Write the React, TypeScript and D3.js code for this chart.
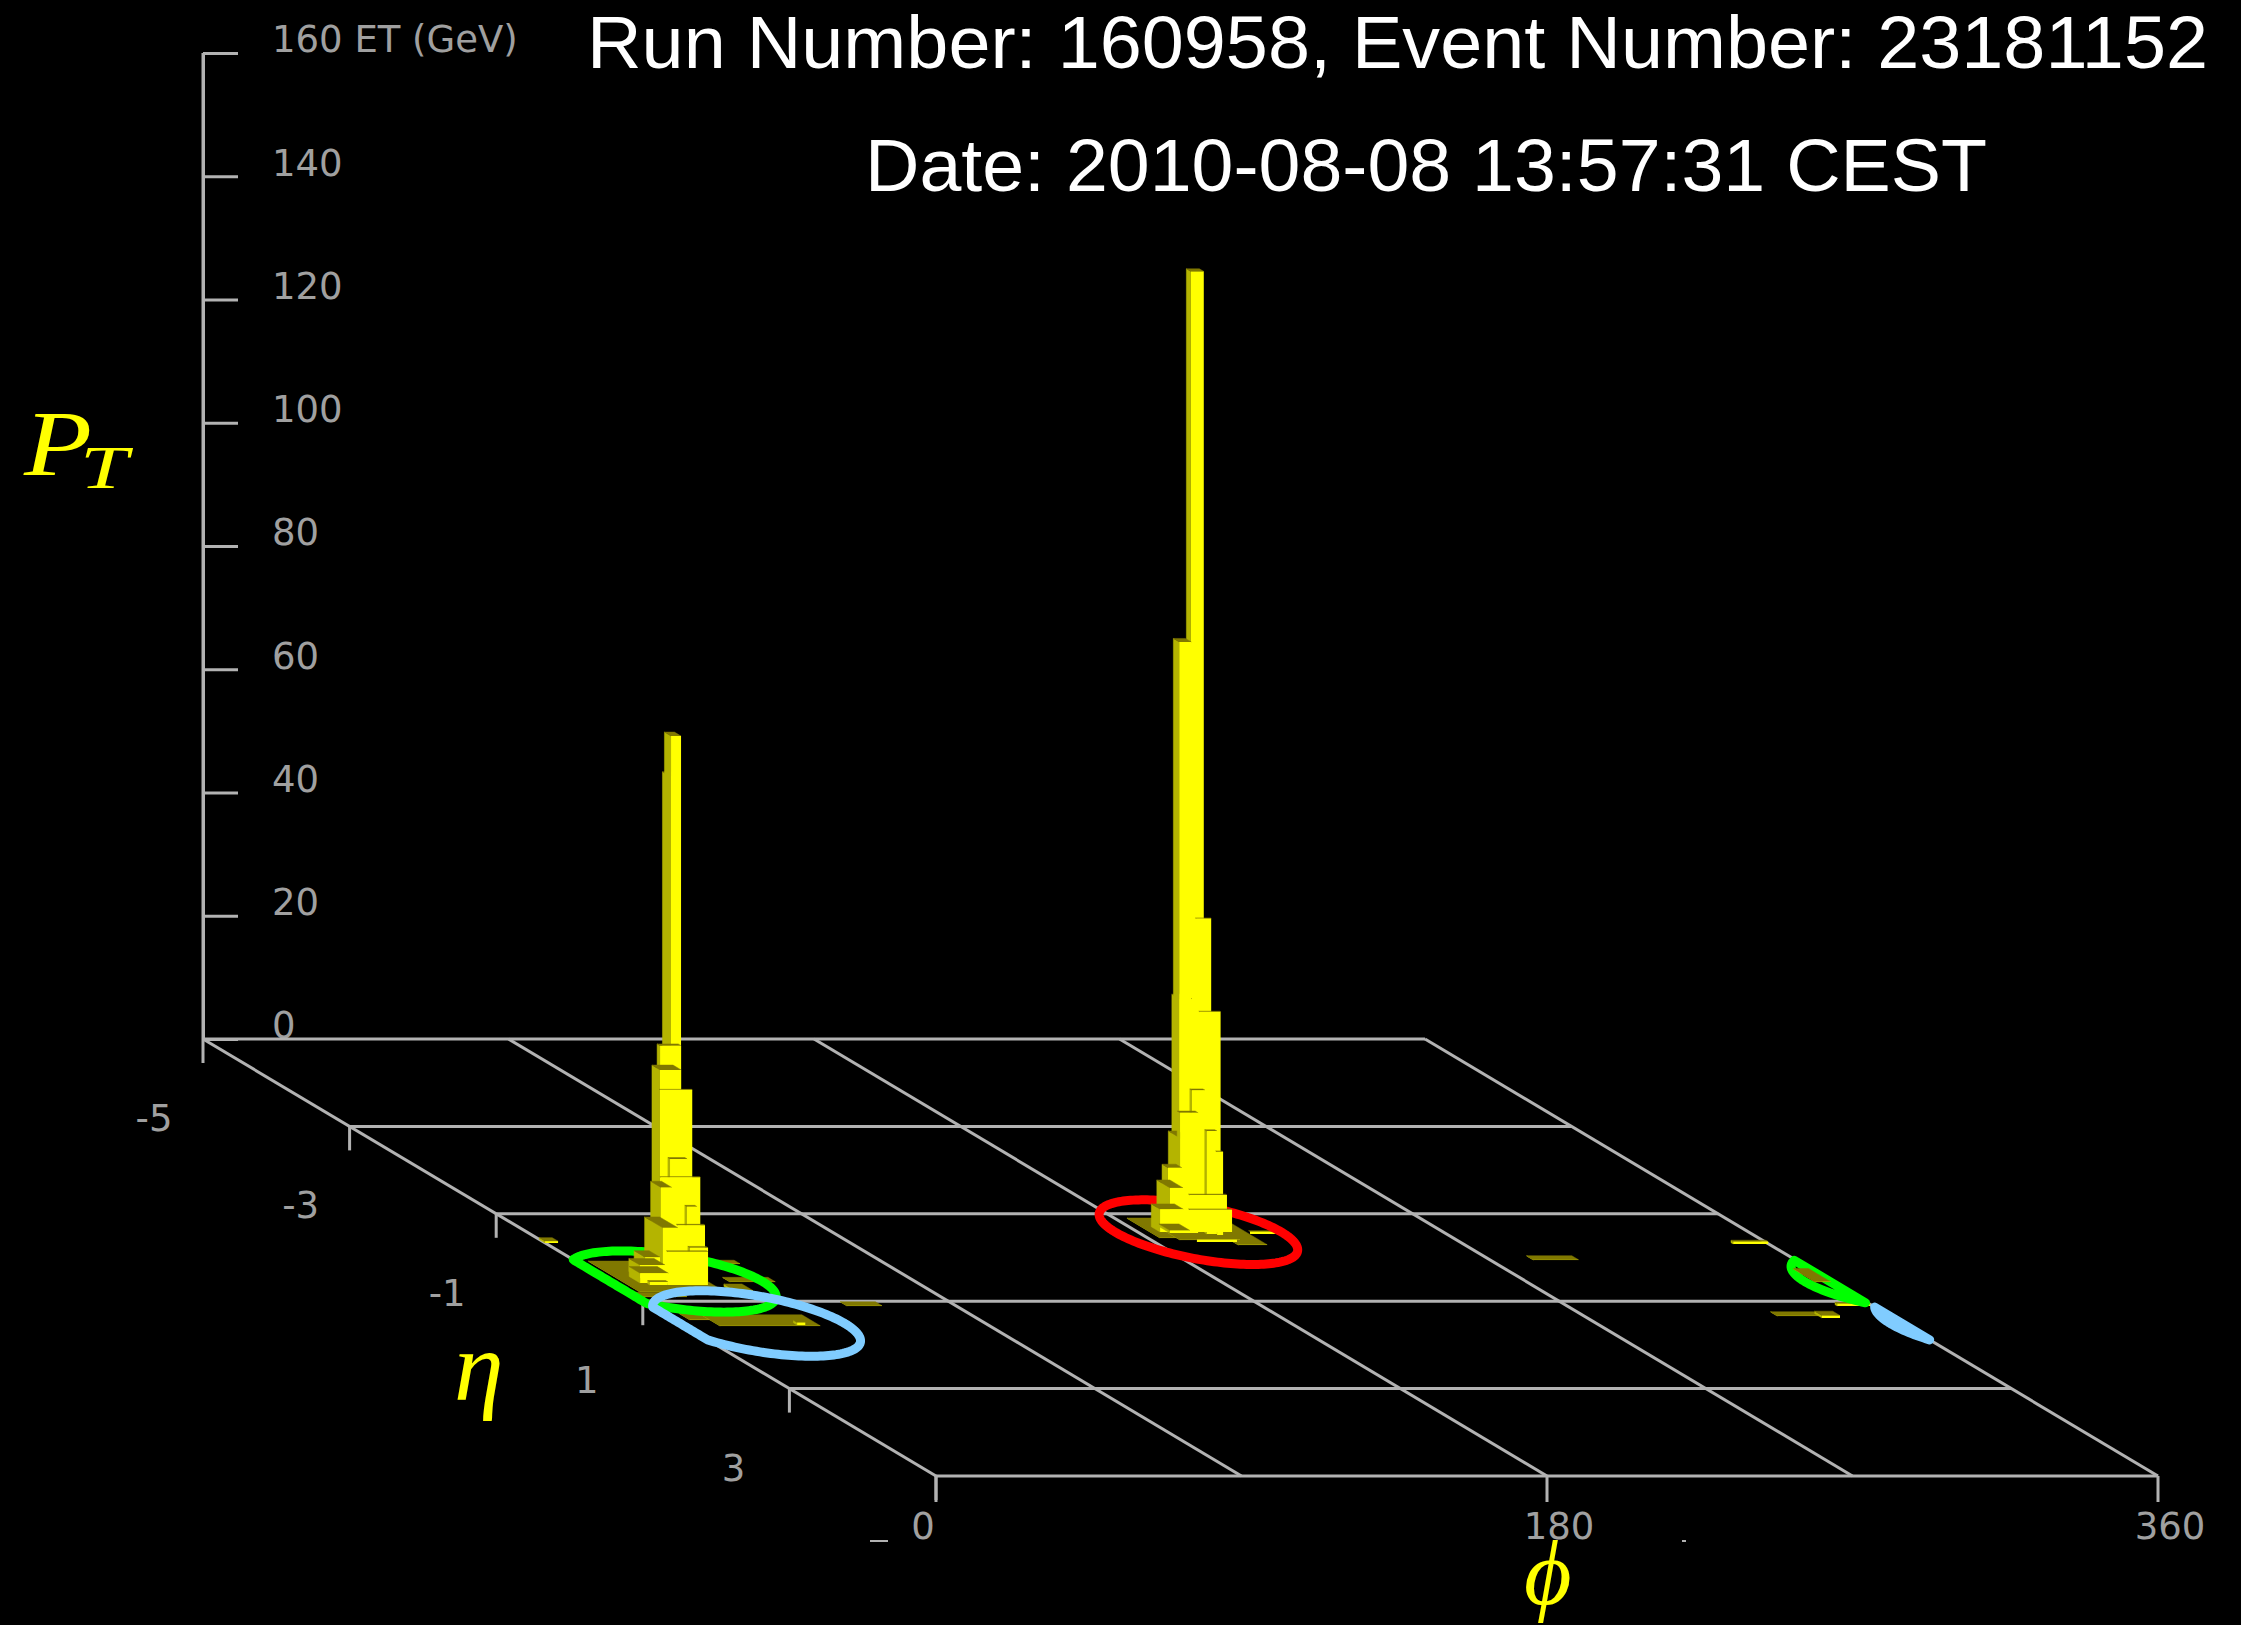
import * as d3 from "d3";
import { useEffect, useRef } from "react";

const ptTicks = [0, 20, 40, 60, 80, 100, 120, 140, 160];
const etaRows = [-5, -3, -1, 1, 3, 5];
const etaLabels = ["-5", "-3", "-1", "1", "3"];
const phiLines = [0, 90, 180, 270, 360];
const phiLabels = [0, 180, 360];
const titleLines = [
  "Run Number: 160958, Event Number: 23181152",
  "Date: 2010-08-08 13:57:31 CEST",
];

// every tower row: phi, eta (front edge), dPhi, dEta, pT
const flatDeposits = [
  [3.7, 0.789, 25, 0.7, 0.05],
  [40.2, 0.149, 6.8, 0.08, 0.05],
  [35.2, 0.561, 13.3, 0.1, 0.05],
  [31.2, 0.812, 5.3, 0.15, 0.4],
  [2.1, 0.904, 13, 0.1, 0.05],
  [4.6, 1.43, 8.8, 0.15, 0.05],
  [10.5, 1.568, 29.5, 0.25, 0.05],
  [33.7, 1.545, 2.4, 0.05, 0.4],
  [57.8, 1.11, 10.3, 0.09, 0.05],
  [0, -0.332, 3.8, 0.08, 0.3],
  [183.6, -0.446, 10.3, 0.45, 0.05],
  [203.2, -0.286, 8.5, 0.55, 0.05],
  [188.5, -0.4, 17.7, 0.2, 0.05],
  [192.5, -0.355, 11.8, 0.02, 0.4],
  [212.1, -0.538, 9.4, 0.02, 0.4],
  [349.5, -0.309, 10.3, 0.03, 0.4],
  [282.7, 0.057, 13.3, 0.09, 0.05],
  [349.5, 1.11, 9.7, 0.03, 0.4],
  [326.9, 1.339, 12.7, 0.09, 0.05],
  [339.1, 1.384, 5.3, 0.1, 0.4],
];

const overRingDeposits = [[354.9, 0.561, 4.5, 0.3, 0.05]];

const leftJetTowers = [
  [27.1, 0.103, 3.5, 0.09, 78.9],
  [25.7, 0.195, 2.95, 0.09, 86],
  [20.5, 0.286, 6.2, 0.04, 36.4],
  [19.5, 0.332, 6.2, 0.11, 32.8],
  [18.5, 0.378, 9.5, 0.01, 29.9],
  [20.5, 0.423, 5, 0.03, 19],
  [17.2, 0.446, 11.7, 0.01, 16.2],
  [16.8, 0.469, 3.2, 0.14, 14.7],
  [23.5, 0.515, 2.95, 0.03, 11.9],
  [16.9, 0.492, 4.4, 0.25, 8.3],
  [20.8, 0.515, 8, 0.02, 8.9],
  [23.9, 0.538, 5.3, 0.03, 5.4],
  [15.4, 0.629, 11.8, 0.02, 5.4],
  [15.1, 0.332, 4.4, 0.15, 2.4],
  [10.6, 0.469, 7.4, 0.15, 2.1],
  [8.2, 0.584, 8.3, 0.15, 1.6],
  [10.1, 0.629, 5.3, 0.03, 0.5],
];

const rightJetTowers = [
  [198.6, -0.721, 3.83, 0.06, 154.9],
  [194.9, -0.698, 3.54, 0.11, 37],
  [194.2, -0.675, 3.54, 0.08, 95.1],
  [198.7, -0.652, 4.42, 0.01, 50.4],
  [198.7, -0.606, 6.2, 0.01, 35.6],
  [196, -0.584, 3.83, 0.03, 23],
  [196.3, -0.721, 2.95, 0.2, 14],
  [192, -0.561, 5.3, 0.04, 19.5],
  [199.4, -0.538, 2.95, 0.03, 16.7],
  [201.9, -0.515, 1.77, 0.02, 13.5],
  [189.9, -0.63, 4.1, 0.08, 10.1],
  [190, -0.606, 3.83, 0.18, 7],
  [186.6, -0.584, 6.8, 0.12, 3.7],
  [195.4, -0.584, 10.9, 0.02, 6],
  [195.4, -0.584, 12.4, 0.02, 3.6],
  [189, -0.561, 5.9, 0.15, 0.4],
];

// phi centre, eta centre, phi radius, eta radius
const greenRing = [18.5, 0.55, 26.5, 0.7];
const blueRing = [22.5, 1.51, 26, 0.75];
const redRing = [197.8, -0.58, 24.5, 0.74];

const WIDTH = 2241;
const HEIGHT = 1625;
const GREY = "#b2b2b2";
const LABEL_GREY = "#a0a0a0";
const SANS = "'DejaVu Sans', sans-serif";
const SERIF = "'Liberation Serif', serif";

const App = () => {
  const svgRef = useRef<SVGSVGElement | null>(null);

  useEffect(() => {
    document.body.style.margin = "0";
    document.body.style.background = "#000";

    const svg = d3.select(svgRef.current);
    svg.selectAll("*").remove();

    const phiX = d3.scaleLinear().domain([0, 360]).range([0, 1222]);
    const etaX = d3.scaleLinear().domain([-5, 5]).range([203, 936]);
    const etaY = d3.scaleLinear().domain([-5, 5]).range([1039, 1476]);
    const ptY = d3.scaleLinear().domain([0, 160]).range([1039, 53]);

    const project = (phi: number, eta: number, pt = 0): [number, number] => [
      etaX(eta) + phiX(phi),
      etaY(eta) + ptY(pt) - ptY(0),
    ];
    const line = d3.line();

    // pT axis
    const axis = d3
      .axisRight(ptY)
      .tickValues(ptTicks)
      .tickSize(35)
      .tickSizeOuter(0)
      .tickPadding(34)
      .tickFormat((d) => (d === 160 ? "160 ET (GeV)" : String(d)));
    const axisG = svg
      .append("g")
      .attr("transform", "translate(203,0)")
      .call(axis as any);
    axisG.selectAll("path,line").attr("stroke", GREY).attr("stroke-width", 3);
    axisG
      .selectAll("text")
      .attr("dy", "-0.03em")
      .attr("fill", LABEL_GREY)
      .attr("font-family", SANS)
      .attr("font-size", 37);

    // floor grid
    const grid = svg
      .append("g")
      .attr("stroke", GREY)
      .attr("stroke-width", 3)
      .attr("fill", "none");
    etaRows.forEach((eta) => {
      grid.append("path").attr("d", line([project(0, eta), project(360, eta)]));
      const [tx, ty] = project(0, eta);
      grid.append("path").attr("d", line([[tx, ty], [tx, ty + 24]]));
    });
    phiLines.forEach((phi) => {
      grid.append("path").attr("d", line([project(phi, -5), project(phi, 5)]));
    });
    phiLabels.forEach((phi) => {
      const [tx, ty] = project(phi, 5);
      grid.append("path").attr("d", line([[tx, ty], [tx, ty + 26]]));
    });
    grid.append("path").attr("d", line([[203, 1039], [203, 53]]));

    // clipped label remnants along the bottom of the picture
    grid.append("path").attr("d", line([[870, 1541], [888, 1541]])).attr("stroke-width", 2);
    grid.append("path").attr("d", line([[1682, 1541], [1686, 1541]])).attr("stroke-width", 2);

    // axis numbers
    etaLabels.forEach((label) => {
      const eta = +label;
      const [tx, ty] = project(0, eta);
      svg
        .append("text")
        .attr("x", tx + (label.startsWith("-") ? -49 : -56))
        .attr("y", ty + 92)
        .attr("text-anchor", "middle")
        .attr("fill", LABEL_GREY)
        .attr("font-family", SANS)
        .attr("font-size", 37)
        .text(label);
    });
    phiLabels.forEach((phi) => {
      const [tx, ty] = project(phi, 5);
      svg
        .append("text")
        .attr("x", tx + (phi === 0 ? -13 : 12))
        .attr("y", ty + 63)
        .attr("text-anchor", "middle")
        .attr("fill", LABEL_GREY)
        .attr("font-family", SANS)
        .attr("font-size", 37)
        .text(phi);
    });

    const drawTowers = (rows: number[][]) => {
      rows.forEach(([phi, eta, dPhi, dEta, pt]) => {
        const back = eta - dEta;
        const g = svg.append("g").attr("stroke-width", 0.5);
        // very shallow towers sit inside a neighbour, their side would only leave a seam
        if (dEta >= 0.03) {
          g.append("path")
            .attr("d", line([project(phi, eta), project(phi, eta, pt), project(phi, back, pt), project(phi, back)]) + "Z")
            .attr("fill", "#b4b400")
            .attr("stroke", "#b4b400");
        }
        g.append("path")
          .attr("d", line([project(phi, eta, pt), project(phi + dPhi, eta, pt), project(phi + dPhi, back, pt), project(phi, back, pt)]) + "Z")
          .attr("fill", "#807800")
          .attr("stroke", "#807800");
        g.append("path")
          .attr("d", line([project(phi, eta), project(phi + dPhi, eta), project(phi + dPhi, eta, pt), project(phi, eta, pt)]) + "Z")
          .attr("fill", "#ffff00");
      });
    };

    const drawRing = ([cPhi, cEta, rPhi, rEta]: number[], colour: string) => {
      const angles = d3.range(0, 2 * Math.PI, Math.PI / 90);
      const main = angles.map((t) =>
        project(Math.max(0, cPhi + rPhi * Math.cos(t)), cEta + rEta * Math.sin(t))
      );
      const paths = [line(main) + "Z"];
      // the part below phi = 0 comes back on the far side of the floor
      const wrapped = angles
        .filter((t) => cPhi + rPhi * Math.cos(t) < 0)
        .map((t) => project(360 + cPhi + rPhi * Math.cos(t), cEta + rEta * Math.sin(t)));
      if (wrapped.length > 1) paths.push(line(wrapped.sort((a, b) => a[1] - b[1])) + "Z");
      paths.forEach((d) => {
        svg
          .append("path")
          .attr("d", d)
          .attr("fill", "none")
          .attr("stroke", colour)
          .attr("stroke-width", 9)
          .attr("stroke-linejoin", "round");
      });
    };

    drawTowers(flatDeposits);
    drawRing(greenRing, "#00ff00");
    drawRing(blueRing, "#80ccff");
    drawRing(redRing, "#ff0000");
    drawTowers(overRingDeposits);
    drawTowers(leftJetTowers);
    drawTowers(rightJetTowers);

    // titles
    svg
      .append("text")
      .attr("x", 587)
      .attr("y", 68)
      .attr("textLength", 1621)
      .attr("lengthAdjust", "spacingAndGlyphs")
      .attr("fill", "#fff")
      .attr("font-family", "'Liberation Sans', sans-serif")
      .attr("font-size", 74)
      .text(titleLines[0]);
    svg
      .append("text")
      .attr("x", 865)
      .attr("y", 191)
      .attr("textLength", 1122)
      .attr("lengthAdjust", "spacingAndGlyphs")
      .attr("fill", "#fff")
      .attr("font-family", "'Liberation Sans', sans-serif")
      .attr("font-size", 74)
      .text(titleLines[1]);

    // axis names
    const mathLabel = (x: number, y: number, size: number, text: string, length?: number) => {
      const node = svg
        .append("text")
        .attr("x", x)
        .attr("y", y)
        .attr("fill", "#ffff00")
        .attr("font-family", SERIF)
        .attr("font-style", "italic")
        .attr("font-size", size)
        .text(text);
      if (length) node.attr("textLength", length).attr("lengthAdjust", "spacingAndGlyphs");
    };
    mathLabel(24, 475, 94, "P", 68);
    mathLabel(80, 488, 62, "T", 48);
    mathLabel(454, 1400, 100, "η");
    mathLabel(1524, 1604, 92, "ϕ");
  }, []);

  return (
    <svg
      ref={svgRef}
      width={WIDTH}
      height={HEIGHT}
      style={{ position: "fixed", left: 0, top: 0, background: "#000" }}
    ></svg>
  );
};

export default App;
